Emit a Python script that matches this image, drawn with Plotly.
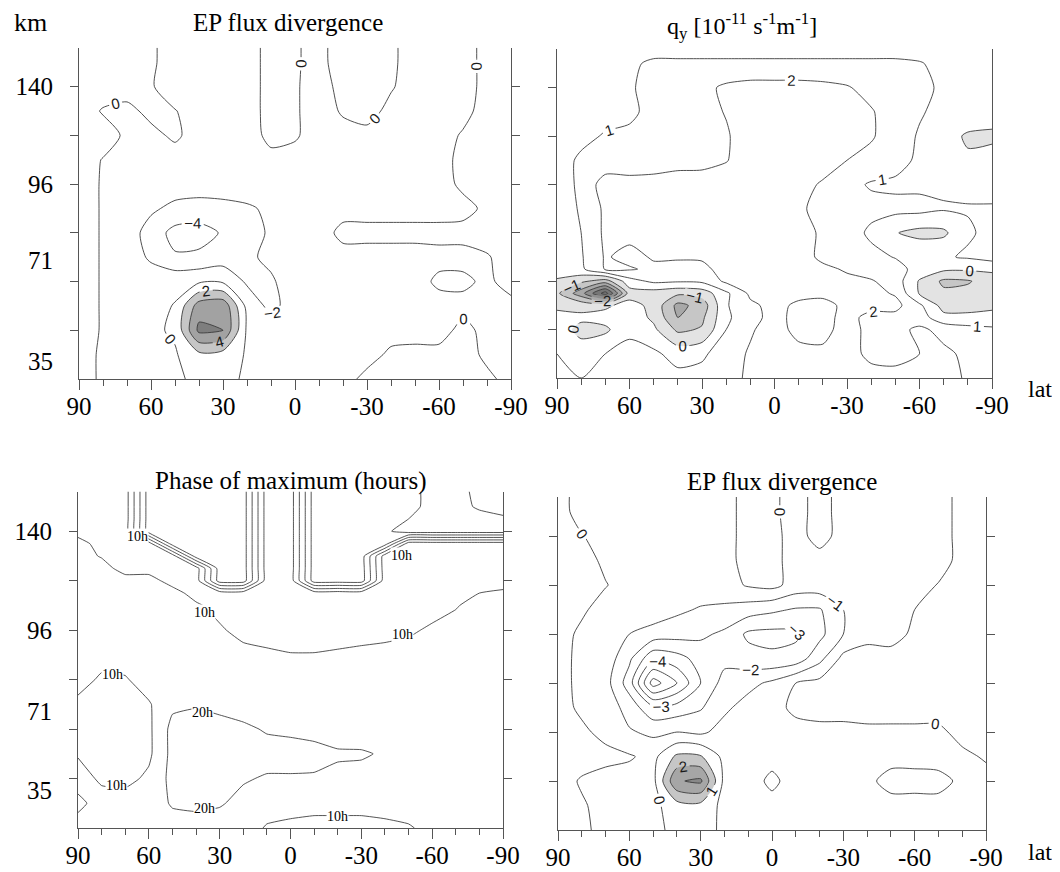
import plotly.graph_objects as go

# The page body has an 8 px margin, so the figure starts 8 px in from the window corner.
OFF = 8
W, H = 1060 - OFF, 872 - OFF

# ---------------- shared axes data ----------------
LAT = [90, 80, 70, 60, 50, 40, 30, 20, 10, 0, -10, -20, -30, -40, -50, -60, -70, -80, -90]
LAT_TICKS = [90, 60, 30, 0, -30, -60, -90]
LAT_TEXT = ["90", "60", "30", "0", "-30", "-60", "-90"]
TOP_TICKS = [90, 70, 50, 30, 10, -10, -30, -50, -70, -90]
KM_TEXT = ["140", "96", "71", "35"]
KM_POS_TOP = [6.0, 4.0, 2.44, 0.36]
KM_POS_BOTTOM = [6.0, 4.0, 2.37, 0.77]
LEVEL_TICKS = [1, 2, 3, 4, 5, 6]

# ---------------- panel 1 : EP flux divergence (top) ----------------
EP1_LEVELS = [7.0, 6.5, 6.0, 5.5, 5.0, 4.5, 4.0, 3.5, 3.0, 2.5, 2.0, 1.5, 1.0, 0.5, 0.0]
EP1_DIV = [
    [.6, .6, .5, .2, -.6, -.6, -.6, -.5, .4, .1, -.3, .5, .5, .2, -.5, -.5, -.4, .3, .6],
    [.6, .6, .5, .2, -.6, -.6, -.6, -.5, .4, .1, -.3, .5, .5, .2, -.5, -.5, -.4, .3, .6],
    [.6, .6, .5, .1, -.6, -.6, -.6, -.5, .4, .1, -.4, .3, .5, .1, -.5, -.5, -.4, .3, .6],
    [.6, -.1, -.3, .3, .05, -.5, -.6, -.5, .4, .1, -.4, .1, .4, -.3, -.5, -.5, -.3, .4, .6],
    [.6, .5, -.2, -.3, .2, -.5, -.6, -.5, .3, .1, -.4, -.3, -.3, -.4, -.5, -.4, .1, .5, .6],
    [.5, -.05, -.4, -.5, -.5, -.5, -.5, -.5, -.3, -.3, -.4, -.4, -.4, -.4, -.5, -.4, .3, .5, .6],
    [.5, -.1, -.5, -.6, -.8, -1.0, -1.0, -.8, -.5, -.4, -.4, -.4, -.5, -.4, -.5, -.4, .2, .5, .6],
    [.5, -.1, -.6, -1.6, -2.6, -2.8, -2.6, -2.3, -1.6, -.5, -.4, -.4, -.4, -.4, -.4, -.4, -.3, .2, .6],
    [.5, -.1, -.8, -3.0, -4.6, -4.8, -3.8, -2.6, -1.8, -.6, -.5, .3, .3, .3, .3, .3, .3, .5, .6],
    [.5, -.1, -.6, -2.4, -3.8, -3.6, -3.0, -2.4, -1.5, -.6, -.5, -.4, -.4, -.4, -.4, -.3, -.3, -.1, .5],
    [.5, -.1, -.5, -.6, -.5, -.3, -.3, -2.3, -2.3, -.8, -.5, -.4, -.4, -.4, -.4, .2, .2, -.2, .4],
    [.5, -.1, -.4, -.6, .1, 5.0, 5.5, -.6, -2.6, -1.0, -.5, -.4, -.4, -.4, -.4, -.4, -.3, -.3, -.3],
    [.5, -.1, -.3, -.4, .3, 6.5, 6.0, -.3, -1.0, -.6, -.4, -.4, -.4, -.4, -.4, -.4, .3, -.3, -.3],
    [.5, -.2, -.3, -.4, -.2, 1.5, 1.2, -.2, -.5, -.4, -.4, -.4, -.4, .2, .3, .3, .4, -.2, -.3],
    [.5, -.2, -.3, -.4, -.3, .4, .4, -.2, -.4, -.4, -.4, -.4, .3, .4, .4, .4, .4, .2, -.3],
]

# ---------------- panel 2 : q_y ----------------
QY_LEVELS = [7.0, 6.5, 6.0, 5.5, 5.0, 4.5, 4.0, 3.5, 3.0, 2.5, 2.25, 2.0, 1.75, 1.5, 1.25, 1.0, 0.5, 0.0]
QY = [
    [.5, .5, .5, .5, .6, .6, .6, .6, .6, .6, .6, .6, .6, .6, .6, .5, .5, .5, .5],
    [.5, .5, .6, .9, 1.1, 1.1, 1.1, 1.1, 1.1, 1.1, 1.1, 1.1, 1.1, 1.1, 1.1, 1.05, .8, .5, .5],
    [.5, .5, .6, .9, 1.3, 1.5, 1.7, 2.2, 2.4, 2.4, 2.4, 2.3, 2.1, 1.6, 1.4, 1.3, .8, .5, .5],
    [.5, .5, .6, .8, 1.3, 1.5, 1.7, 2.05, 2.5, 2.6, 2.5, 2.4, 2.2, 2.1, 1.4, 1.1, .7, .5, .5],
    [.5, .7, 1.1, 1.2, 1.2, 1.5, 1.7, 1.9, 2.5, 2.6, 2.5, 2.4, 2.3, 2.1, 1.5, .9, .3, -.1, -.2],
    [.5, 1.2, 1.3, 1.5, 1.6, 1.7, 1.8, 1.97, 2.3, 2.6, 2.5, 2.4, 2.0, 1.7, 1.4, .8, .4, .1, .4],
    [.5, 1.2, 2.5, 2.3, 2.3, 2.4, 2.3, 2.3, 2.4, 2.6, 2.3, 1.9, 1.3, .9, .8, .8, .8, .8, .8],
    [.5, 1.1, 2.2, 2.4, 2.2, 2.4, 2.5, 2.6, 2.6, 2.5, 2.1, 1.8, 1.6, 1.3, 1.3, 1.3, 1.1, 1.05, 1.05],
    [.5, 1.0, 2.2, 2.3, 2.2, 2.3, 2.6, 2.6, 2.6, 2.5, 2.5, 1.8, 1.5, .8, .05, -.3, -.2, .9, 1.2],
    [.6, .9, 2.1, 1.7, 2.1, 2.1, 2.1, 2.3, 2.4, 2.4, 2.4, 1.8, 1.5, 1.3, .95, .9, .9, 1.1, 1.4],
    [.7, .8, 2.1, 2.1, 1.8, 1.7, 1.8, 2.3, 2.5, 2.4, 2.3, 2.2, 1.9, 1.5, 1.4, .6, .2, .15, .2],
    [-.2, -.8, -1.5, .6, 1.2, 1.1, 1.2, 2.2, 2.5, 2.4, 2.4, 2.3, 2.2, 2.1, 1.5, -.1, -1.2, -1.1, -.5],
    [-.8, -2.6, -5.5, -.5, -.5, -.8, -.6, .8, 2.2, 2.4, 2.3, 2.3, 2.4, 2.3, 1.9, -.1, -.8, -.7, -.4],
    [-.2, -.3, -.2, .4, -.3, -2.3, -1.6, .9, 1.8, 2.3, 1.8, 1.6, 2.3, 2.3, 2.3, 1.2, -.4, -.3, -.2],
    [.3, .2, .4, .6, -.2, -2.0, -1.2, .8, 1.7, 2.3, 1.7, 1.7, 2.3, 1.7, 1.7, 1.5, .3, .2, .3],
    [.5, -.3, -.2, .8, .2, -1.2, -.9, 1.0, 1.9, 2.4, 1.7, 1.7, 2.4, 1.7, 1.7, 2.2, 1.7, 1.4, 1.2],
    [1.0, .5, 1.0, 1.3, 1.2, .6, .8, 1.6, 2.1, 2.4, 2.3, 2.2, 2.3, 1.8, 1.8, 2.0, 2.2, 1.8, 1.5],
    [1.2, 1.0, 1.1, 1.4, 1.5, 1.3, 1.4, 1.8, 2.1, 2.3, 2.2, 2.1, 2.2, 2.3, 2.2, 2.1, 2.3, 1.9, 1.6],
]

# ---------------- panel 3 : phase of maximum (hours, unwrapped) ----------------
PH_LEVELS = [7.0, 6.5, 6.25, 6.0, 5.75, 5.5, 5.25, 5.0, 4.75, 4.5, 4.0, 3.5, 3.0, 2.5, 2.0, 1.5, 1.0, 0.5, 0.0]
PH_HOURS = [
    [5, 5, 5, 45, 45, 45, 45, 45, 5, 5, 45, 45, 45, 45, 45, 55, 55, 65, 65],
    [5, 5, 5, 45, 45, 45, 45, 45, 5, 5, 45, 45, 45, 45, 45, 55, 55, 62, 65],
    [5, 5, 5, 45, 45, 45, 45, 45, 5, 5, 45, 45, 45, 45, 50, 55, 55, 55, 58],
    [5, 5, 5, 45, 45, 45, 45, 45, 5, 5, 45, 45, 45, 48, 55, 55, 55, 55, 55],
    [15, 5, 5, 5, 45, 45, 45, 45, 5, 5, 45, 45, 45, 45, 5, 5, 5, 5, 5],
    [15, 9, 5, 5, 5, 45, 45, 45, 5, 5, 45, 45, 45, 5, 5, 5, 5, 5, 5],
    [15, 15, 5, 5, 5, 5, 45, 45, 5, 5, 45, 45, 45, 5, 5, 5, 5, 5, 5],
    [15, 15, 15, 15, 5, 5, 45, 45, 5, 5, 45, 45, 45, 5, 5, 5, 5, 5, 5],
    [15, 15, 15, 15, 15, 5, 5, 5, 5, 5, 5, 5, 5, 5, 5, 5, 5, 10, 12],
    [15, 15, 15, 15, 15, 12, 5, 5, 5, 5, 5, 5, 5, 5, 5, 5, 9, 15, 15],
    [15, 15, 15, 15, 15, 15, 12, 5, 5, 5, 5, 5, 5, 5, 8, 12, 15, 15, 15],
    [15, 15, 15, 15, 15, 15, 15, 15, 12, 10.5, 10.5, 11.5, 13, 15, 15, 15, 15, 15, 15],
    [15, 8, 9, 15, 15, 15, 15, 15, 15, 15, 15, 15, 15, 15, 15, 15, 15, 15, 15],
    [7, 5, 5, 9, 18, 19, 17, 15, 15, 15, 15, 15, 15, 15, 15, 15, 15, 15, 15],
    [5, 5, 5, 8, 23, 25, 24, 22, 19, 18, 17, 16, 15, 15, 15, 15, 15, 15, 15],
    [9, 5, 5, 8, 23, 25, 25, 25, 24, 24, 23, 21, 21, 19, 15, 15, 15, 15, 15],
    [15, 8, 7, 12, 23, 25, 24, 21, 19, 19, 19, 18, 17, 16, 15, 15, 15, 15, 15],
    [7, 15, 15, 15, 21, 22, 21, 17, 15, 15, 15, 15, 15, 15, 15, 15, 15, 15, 15],
    [15, 15, 15, 15, 16, 16, 15, 15, 9, 7, 5, 5, 5, 7, 9, 13, 15, 15, 15],
]
PH_LABEL_TEXT = ["10h", "10h", "10h", "10h", "10h", "20h", "10h", "20h", "10h"]
PH_LABEL_LAT = [64.6, 36.6, -47.2, -47.6, 75.2, 37.1, 73.5, 36.6, -20.1]
PH_LABEL_LEV = [5.90, 4.36, 5.50, 3.91, 3.10, 2.33, 0.85, 0.39, 0.24]

# ---------------- panel 4 : EP flux divergence (bottom) ----------------
EP2_LEVELS = [7.0, 6.5, 6.0, 5.5, 5.0, 4.5, 4.0, 3.5, 3.0, 2.5, 2.0, 1.5, 1.0, 0.5, 0.0]
EP2_DIV = [
    [.4, -.4, -.4, -.4, -.4, -.4, -.4, -.4, .4, .2, -.4, .4, -.4, -.4, -.4, -.4, -.4, .3, .4],
    [.4, -.4, -.4, -.4, -.4, -.4, -.4, -.4, .4, .2, -.4, .4, -.4, -.4, -.4, -.4, -.4, .3, .4],
    [.4, .05, -.4, -.4, -.4, -.4, -.4, -.4, .4, .3, -.4, .4, -.4, -.4, -.4, -.4, -.4, .3, .4],
    [.4, .4, -.2, -.4, -.4, -.4, -.4, -.4, .4, .3, -.4, -.4, -.4, -.4, -.4, -.4, -.4, .3, .4],
    [.4, .4, .05, -.4, -.4, -.4, -.4, -.4, .1, .3, -.4, -.4, -.4, -.4, -.4, -.4, .05, .4, .4],
    [.4, .15, -.4, -.4, -.4, -.8, -1.1, -1.2, -1.5, -1.8, -2.1, -2.1, -1.0, -.4, -.4, 0, .4, .4, .4],
    [.4, -.2, -.4, -1.0, -1.4, -1.6, -1.8, -2.2, -3.2, -3.3, -3.2, -2.3, -1.0, -.3, -.4, .2, .4, .4, .4],
    [.4, -.3, -.4, -1.8, -3.8, -3.4, -2.6, -2.3, -2.6, -2.8, -2.6, -1.3, .3, .4, .4, .4, .4, .4, .4],
    [.4, -.3, -.6, -2.5, -6.5, -5.0, -3.0, -1.6, -1.3, -.8, 0, .3, .4, .4, .4, .4, .4, .4, .4],
    [.4, -.2, -.4, -1.4, -2.8, -2.6, -2.1, -1.2, -.6, -.3, .2, .4, .4, .4, .4, .4, .4, .4, .4],
    [.4, .2, -.3, -.9, -1.2, -1.0, -1.2, -.6, -.4, -.3, -.3, -.3, -.3, -.2, -.2, -.2, -.2, .3, .4],
    [.4, .4, .3, .1, -.3, 1.2, 1.1, -.3, -.3, -.3, -.4, -.4, -.4, -.4, -.3, -.3, -.4, -.2, .1],
    [.4, -.1, -.4, -.4, -.3, 2.9, 3.2, -.3, -.4, .2, -.4, -.4, -.4, -.2, .3, .3, .3, -.2, -.3],
    [.4, .1, -.3, -.4, -.3, .6, .7, -.3, -.4, -.3, -.4, -.4, -.4, -.4, -.3, -.3, -.3, -.3, -.3],
    [.4, .2, -.3, -.4, -.3, .3, .4, -.2, -.3, -.3, -.4, -.4, -.4, -.4, -.4, -.4, -.4, -.4, -.4],
]

# ---------------- layout geometry (screen pixels) ----------------
BOXES = {
    1: ((79, 511), (47.7, 379)),
    2: ((557, 992), (49, 378)),
    3: ((78, 503), (491.7, 828)),
    4: ((558, 986), (497, 830)),
}
SERIF = "Liberation Serif"
AXC = "#555555"


def fx(x):
    return (x - OFF) / W


def fy(y):
    return 1 - (y - OFF) / H


def ax_names(n):
    s = "" if n == 1 else str(n)
    return "x" + s, "y" + s


def asc(levels, rows):
    return levels[::-1], rows[::-1]


def line_trace(n, levels, rows, start, end, size, labels=True, color="#3c3c3c", width=0.9, smooth=0.7):
    y, z = asc(levels, rows)
    xa, ya = ax_names(n)
    return go.Contour(
        x=LAT, y=y, z=z, xaxis=xa, yaxis=ya, autocontour=False,
        contours=dict(coloring="lines", start=start, end=end, size=size, showlabels=labels,
                      labelfont=dict(family="Liberation Sans", size=15, color="#1a1a1a")),
        colorscale=[[0, color], [1, color]], showscale=False,
        line=dict(width=width, smoothing=smooth), hoverinfo="skip")


def shade_trace(n, levels, rows, op, value, color, smooth=0.7):
    # plotly shades the region that fails the constraint
    y, z = asc(levels, rows)
    xa, ya = ax_names(n)
    return go.Contour(
        x=LAT, y=y, z=z, xaxis=xa, yaxis=ya,
        contours=dict(type="constraint", operation=op, value=value, showlines=False),
        fillcolor=color, line=dict(width=0, smoothing=smooth, color="rgba(0,0,0,0)"),
        showscale=False, hoverinfo="skip")


fig = go.Figure()

# panel 1 shading (positive cores, z > v) and lines
for v, c in [(2, "#c6c6c6"), (4, "#a2a2a2"), (6, "#7e7e7e")]:
    fig.add_trace(shade_trace(1, EP1_LEVELS, EP1_DIV, "<", v, c))
fig.add_trace(line_trace(1, EP1_LEVELS, EP1_DIV, -6, 6, 2))

# panel 2 shading (negative q_y, z < v) and lines
for v, c in [(0, "#e3e3e3"), (-1, "#c6c6c6"), (-2, "#a8a8a8"), (-3, "#8e8e8e"), (-4, "#767676")]:
    fig.add_trace(shade_trace(2, QY_LEVELS, QY, ">", v, c))
fig.add_trace(line_trace(2, QY_LEVELS, QY, -5, 2, 1))

# panel 3 lines only
fig.add_trace(line_trace(3, PH_LEVELS, PH_HOURS, 10, 60, 10, labels=False, color="#2a2a2a", width=0.8, smooth=0.4))

# panel 4 shading and lines
for v, c in [(1, "#c6c6c6"), (2, "#a6a6a6"), (3, "#888888")]:
    fig.add_trace(shade_trace(4, EP2_LEVELS, EP2_DIV, "<", v, c))
fig.add_trace(line_trace(4, EP2_LEVELS, EP2_DIV, -6, 3, 1))

layout = dict(width=W, height=H, margin=dict(l=0, r=0, t=0, b=0, pad=0), autosize=False,
              paper_bgcolor="white", plot_bgcolor="white", showlegend=False)

for n, ((x0, x1), (y0, y1)) in BOXES.items():
    xs = "xaxis" if n == 1 else f"xaxis{n}"
    ys = "yaxis" if n == 1 else f"yaxis{n}"
    xa, ya = ax_names(n)
    layout[xs] = dict(
        domain=[fx(x0), fx(x1)], range=[90, -90], anchor=ya, automargin=False,
        tickmode="array", tickvals=LAT_TICKS, ticktext=LAT_TEXT,
        ticks="outside", ticklen=10, tickwidth=1, tickcolor=AXC,
        minor=dict(dtick=10, tick0=0, ticks="outside", ticklen=6, tickwidth=1, tickcolor=AXC),
        showline=True, linecolor=AXC, linewidth=1, mirror=False,
        showgrid=False, zeroline=False, ticklabelstandoff=-5,
        tickfont=dict(family=SERIF, size=25, color="black"), fixedrange=True)
    # top frame with its own 20-degree ticks
    layout[f"xaxis{n + 4}"] = dict(
        domain=[fx(x0), fx(x1)], range=[90, -90], anchor=ya, overlaying=xa, side="top",
        automargin=False,
        tickmode="array", tickvals=TOP_TICKS, ticks="outside", ticklen=6, tickwidth=1,
        tickcolor=AXC, showticklabels=False, showline=True, linecolor=AXC, linewidth=1,
        showgrid=False, zeroline=False, fixedrange=True)
    left = n in (1, 3)
    layout[ys] = dict(
        domain=[fy(y1), fy(y0)], range=[0, 6.8], anchor=xa, automargin=False,
        tickmode="array",
        tickvals=(KM_POS_TOP if n == 1 else KM_POS_BOTTOM) if left else [],
        ticktext=KM_TEXT if left else [],
        showticklabels=left, ticks="",
        minor=dict(tickmode="array", tickvals=LEVEL_TICKS, ticks="outside", ticklen=8,
                   tickwidth=1, tickcolor=AXC),
        showline=True, linecolor=AXC, linewidth=1, mirror=("ticks" if n != 2 else True),
        showgrid=False, zeroline=False, ticklabelstandoff=20,
        tickfont=dict(family=SERIF, size=25, color="black"), fixedrange=True)

fig.update_layout(**layout)

ann = []
for text, (x, y), size in [
    ("EP flux divergence", (288, 22), 25),
    ("q<sub>y</sub> [10<sup>-11</sup> s<sup>-1</sup>m<sup>-1</sup>]", (742, 26), 24),
    ("Phase of maximum (hours)", (290, 481), 25),
    ("EP flux divergence", (782, 481), 25),
    ("km", (30, 22), 26),
    ("lat", (1040, 389), 24),
    ("lat", (1040, 852), 24),
]:
    ann.append(dict(text=text, x=fx(x), y=fy(y), xref="paper", yref="paper", xanchor="center",
                    yanchor="middle", showarrow=False, font=dict(family=SERIF, size=size, color="black")))

for t, la, lv in zip(PH_LABEL_TEXT, PH_LABEL_LAT, PH_LABEL_LEV):
    ann.append(dict(text=t, x=la, y=lv, xref="x3", yref="y3", showarrow=False,
                    font=dict(family=SERIF, size=14, color="black"), bgcolor="white", borderpad=0))

fig.update_layout(annotations=ann)
fig.write_html("out.html")
